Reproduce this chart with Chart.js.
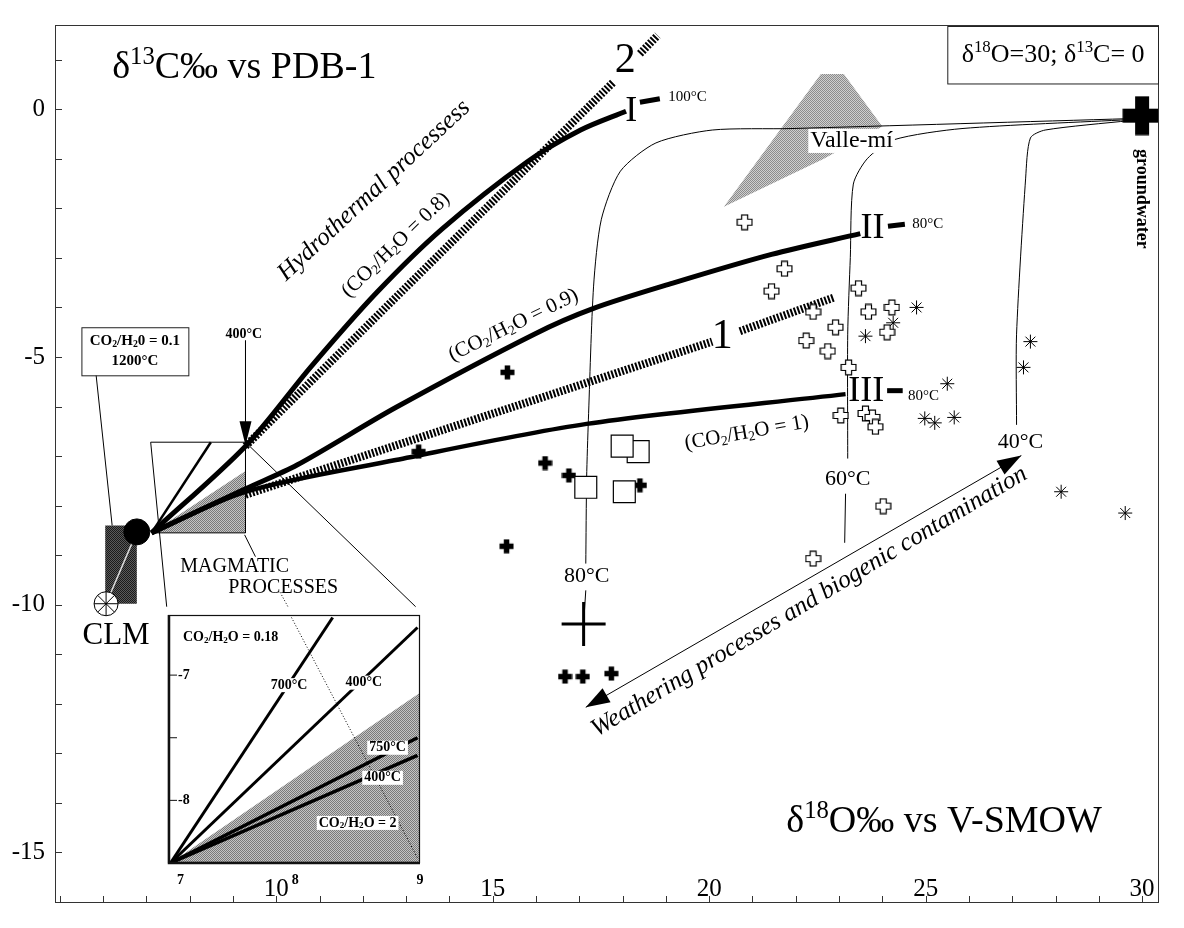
<!DOCTYPE html>
<html>
<head>
<meta charset="utf-8">
<title>d13C vs d18O</title>
<script src="https://cdn.jsdelivr.net/npm/chart.js@4.4.1/dist/chart.umd.min.js"></script>
<style>
  body { margin: 0; background: #fff; }
  #wrap { position: relative; width: 1184px; height: 928px; }
  #main { position: absolute; left: 0; top: 0; }
  #inset { position: absolute; left: 150px; top: 600px; }
</style>
</head>
<body>
<div id="wrap">
  <canvas id="main" width="1184" height="928"></canvas>
  <canvas id="inset" width="290" height="300"></canvas>
</div>
<script>
// axes (d18O vs V-SMOW, d13C vs PDB-1)
const xMin = 4.89, xMax = 30.39, yMin = -16.02, yMax = 1.70;
const xTickLabels = [10, 15, 20, 25, 30];
const yTickLabels = [0, -5, -10, -15];

// fluid/rock curves I, II, III (CO2/H2O = 0.8, 0.9, 1)
const curveI = [[7.12, -8.55], [9.29, -6.80], [10.8, -5.2], [12.31, -3.71], [13.84, -2.41], [15.80, -1.06], [17.03, -0.42], [18.08, -0.04]];
const curveII = [[7.12, -8.55], [9.29, -7.66], [10.48, -7.18], [12.76, -6.02], [15.96, -4.54], [17.33, -4.02], [19.16, -3.51], [21.44, -2.93], [23.49, -2.51]];
const curveIII = [[7.12, -8.55], [9.29, -7.72], [12.76, -7.08], [17.17, -6.35], [23.15, -5.75]];
const dashI = [[18.40, 0.14], [18.86, 0.21]];
const dashII = [[24.13, -2.36], [24.52, -2.32]];
const dashIII = [[24.11, -5.68], [24.47, -5.68]];

// hatched mixing lines 1 and 2
const mix1a = [[9.29, -7.78], [20.07, -4.69]];
const mix1b = [[20.71, -4.48], [22.88, -3.80]];
const mix2a = [[9.29, -6.80], [17.78, 0.54]];
const mix2b = [[18.40, 1.12], [18.81, 1.49]];

// isotherms to groundwater
const iso80a = [[29.70, -0.19], [21.89, -0.39], [20.07, -0.42], [18.77, -0.68], [17.95, -1.25], [17.51, -2.22], [17.33, -3.57], [17.21, -6.27], [17.17, -7.43], [17.15, -9.17]];
const iso80b = [[17.15, -9.71], [17.10, -10.39]];
const iso60a = [[29.70, -0.21], [25.84, -0.39], [24.25, -0.62], [23.65, -1.00], [23.33, -1.51], [23.26, -2.99], [23.20, -4.54], [23.20, -7.05]];
const iso60b = [[23.15, -7.76], [23.13, -8.75]];
const iso40 = [[29.70, -0.23], [27.76, -0.42], [27.42, -0.58], [27.31, -1.39], [27.10, -4.54], [27.10, -6.37]];

// magmatic fan and zoom frame
const fanSteep = [[7.12, -8.55], [8.49, -6.72]];
const zoomFrame = [[7.10, -6.72], [9.29, -6.72], [9.29, -8.55], [7.12, -8.55]];
const linkLeft = [[7.10, -6.72], [7.47, -10.04]];
const linkRight = [[9.29, -6.72], [13.22, -10.04]];
const magmaLeader = [[9.52, -9.03], [9.27, -8.59]];
const magmaShade = [[7.12, -8.55], [9.29, -7.30], [9.29, -8.55], [7.12, -8.55]];
const valleShade = [[20.34, -1.97], [22.58, 0.71], [23.11, 0.71], [24.00, -0.35], [22.65, -1.00], [20.34, -1.97]];
const clmRect = [[6.05, -8.40], [6.78, -8.40], [6.78, -9.98], [6.05, -9.98], [6.05, -8.40]];
const clmStreak = [[6.07, -9.98], [6.78, -8.53]];
const clmLeader = [[5.84, -5.37], [6.21, -8.40]];
const arrow400 = [[9.29, -4.67], [9.29, -6.40]];
const processDots = [[10.09, -9.75], [10.27, -10.04]];
const weatherArrow = [[17.15, -12.07], [27.21, -6.99]];

// samples
const openCrosses = [[20.82, -2.28], [21.74, -3.22], [21.44, -3.67], [22.40, -4.09], [22.92, -4.40], [22.24, -4.67], [22.74, -4.88], [23.22, -5.21], [23.04, -6.18], [23.45, -3.61], [23.68, -4.09], [24.22, -4.00], [24.11, -4.50], [23.61, -6.14], [23.77, -6.22], [23.84, -6.41], [24.02, -8.01], [22.40, -9.07]];
const filledCrosses = [[15.34, -5.31], [16.21, -7.14], [16.76, -7.39], [18.40, -7.59], [15.32, -8.82], [16.67, -11.45], [17.08, -11.45], [17.74, -11.39], [13.29, -6.91]];
const openSquares = [[18.36, -6.91], [17.99, -6.80], [17.15, -7.63], [18.04, -7.72]];
const asterisks = [[24.79, -4.00], [24.25, -4.31], [23.61, -4.58], [27.42, -4.69], [27.26, -5.21], [25.50, -5.54], [24.98, -6.24], [25.21, -6.33], [25.66, -6.22], [28.13, -7.72], [29.61, -8.15]];
const groundwater = [[30.0, -0.13]];
const cross80 = [[17.10, -10.39]];
const clmDot = [[6.78, -8.53]];
const clmWheel = [[6.07, -9.98]];

// labels [text, x, y]
const curveLabels = [['I', 18.20, -0.04], ['II', 23.77, -2.41], ['III', 23.63, -5.69]];
const endTemps = [['100°C', 19.50, 0.25], ['80°C', 25.05, -2.32], ['80°C', 24.95, -5.79]];
const mixLabels = [['2', 18.06, 0.97], ['1', 20.30, -4.59]];
const isoLabels = [['80°C', 17.17, -9.42], ['60°C', 23.20, -7.47], ['40°C', 27.19, -6.72]];
const ratioLabels = [['(CO_{2}/H_{2}O = 0.8)', 12.76, -2.74, -44], ['(CO_{2}/H_{2}O = 0.9)', 15.48, -4.36, -26], ['(CO_{2}/H_{2}O = 1)', 20.87, -6.53, -10]];

// inset (magnified magmatic field)
const insetXMin = 6.98, insetXMax = 9.0, insetYMin = -8.5, insetYMax = -6.52;
const insetXTicks = [7, 8, 9];
const insetYTicks = [-7, -8];
const inset700 = [[7, -8.5], [8.30, -6.54]];
const inset400a = [[7, -8.5], [8.98, -6.62]];
const inset750 = [[7, -8.5], [8.98, -7.50]];
const inset400b = [[7, -8.5], [8.98, -7.64]];
const insetShade = [[7, -8.5], [9.0, -7.14], [9.0, -8.5], [7, -8.5]];
const insetDots = [[7.97, -6.54], [8.98, -8.46]];
const insetLabels = [['700°C', 7.95, -7.08], ['400°C', 8.55, -7.06], ['750°C', 8.74, -7.58], ['400°C', 8.70, -7.82], ['CO_{2}/H_{2}O = 2', 8.50, -8.18]];

const FONT = 'Liberation Serif';
const pts = a => a.map(([x, y]) => ({ x, y }));

function parseRich(s) {
  const out = [];
  const re = /([\^_])\{([^}]*)\}/g;
  let last = 0, m;
  while ((m = re.exec(s))) {
    if (m.index > last) out.push({ t: s.slice(last, m.index), m: '' });
    out.push({ t: m[2], m: m[1] === '^' ? 'sup' : 'sub' });
    last = re.lastIndex;
  }
  if (last < s.length) out.push({ t: s.slice(last), m: '' });
  return out;
}

function drawRich(ctx, s, x, y, o) {
  const segs = parseRich(s);
  const font = sz => `${o.style || ''} ${sz}px ${FONT}`;
  let w = 0;
  segs.forEach(g => {
    g.sz = g.m ? o.size * 0.65 : o.size;
    ctx.font = font(g.sz);
    g.w = ctx.measureText(g.t).width;
    w += g.w;
  });
  ctx.save();
  ctx.translate(x, y);
  if (o.rot) ctx.rotate(o.rot * Math.PI / 180);
  let cx = o.align === 'left' ? 0 : o.align === 'right' ? -w : -w / 2;
  if (o.bg) {
    ctx.fillStyle = o.bg;
    ctx.fillRect(cx - 2, -o.size * 0.5, w + 4, o.size);
  }
  ctx.fillStyle = '#000';
  ctx.textAlign = 'left';
  ctx.textBaseline = 'middle';
  segs.forEach(g => {
    ctx.font = font(g.sz);
    const dy = g.m === 'sup' ? -o.size * 0.28 : g.m === 'sub' ? o.size * 0.22 : 0;
    ctx.fillText(g.t, cx, dy);
    cx += g.w;
  });
  ctx.restore();
}

function arrowHead(ctx, fx, fy, tx, ty, len, half) {
  const a = Math.atan2(ty - fy, tx - fx);
  const bx = tx - len * Math.cos(a), by = ty - len * Math.sin(a);
  ctx.beginPath();
  ctx.moveTo(tx, ty);
  ctx.lineTo(bx + half * Math.sin(a), by - half * Math.cos(a));
  ctx.lineTo(bx - half * Math.sin(a), by + half * Math.cos(a));
  ctx.closePath();
  ctx.fill();
}

// greek cross marker drawn once into a small canvas
function crossImg(size, arm, fill, lw) {
  const c = document.createElement('canvas');
  c.width = c.height = size;
  const g = c.getContext('2d');
  const p = lw / 2 + 0.5, q = size - p;
  const a = (size - arm) / 2, b = a + arm;
  g.beginPath();
  g.moveTo(a, p); g.lineTo(b, p); g.lineTo(b, a); g.lineTo(q, a); g.lineTo(q, b); g.lineTo(b, b);
  g.lineTo(b, q); g.lineTo(a, q); g.lineTo(a, b); g.lineTo(p, b); g.lineTo(p, a); g.lineTo(a, a);
  g.closePath();
  g.fillStyle = fill; g.fill();
  if (lw > 0) { g.strokeStyle = '#000'; g.lineWidth = lw; g.stroke(); }
  return c;
}

// fine grey screen tone
function stipple(ctx, dark, light) {
  const c = document.createElement('canvas');
  c.width = c.height = 2;
  const g = c.getContext('2d');
  g.fillStyle = light; g.fillRect(0, 0, 2, 2);
  g.fillStyle = dark; g.fillRect(0, 0, 1, 1); g.fillRect(1, 1, 1, 1);
  return ctx.createPattern(c, 'repeat');
}

function line(data, width, order, extra) {
  return Object.assign({ data: pts(data), borderColor: '#000', borderWidth: width, pointRadius: 0, pointHoverRadius: 0, fill: false, tension: 0, order }, extra || {});
}
function shade(data, pattern, order) {
  return { data: pts(data), borderWidth: 0, borderColor: 'rgba(0,0,0,0)', backgroundColor: pattern, fill: 'shape', pointRadius: 0, pointHoverRadius: 0, order };
}
function marks(data, style, radius, order, extra) {
  return Object.assign({ data: pts(data), showLine: false, pointStyle: style, pointRadius: radius, pointHoverRadius: radius, pointBorderColor: '#000', pointBackgroundColor: '#fff', pointBorderWidth: 1, order }, extra || {});
}

const mainCtx = document.getElementById('main').getContext('2d');
const hatch = { borderDash: [2, 1.6], borderCapStyle: 'butt' };

const mainDecor = {
  id: 'mainDecor',
  afterDatasetsDraw(chart) {
    const { ctx, chartArea: a } = chart;
    const X = v => chart.scales.x.getPixelForValue(v);
    const Y = v => chart.scales.y.getPixelForValue(v);
    ctx.save();
    ctx.strokeStyle = '#333';
    ctx.lineWidth = 1;
    ctx.strokeRect(a.left + 0.5, a.top + 0.5, a.width - 1, a.height - 1);
    ctx.beginPath();
    for (let v = Math.ceil(xMin); v <= xMax; v++) { ctx.moveTo(Math.round(X(v)) + 0.5, a.bottom); ctx.lineTo(Math.round(X(v)) + 0.5, a.bottom - 7); }
    for (let v = Math.ceil(yMin); v <= yMax; v++) { ctx.moveTo(a.left, Math.round(Y(v)) + 0.5); ctx.lineTo(a.left + 7, Math.round(Y(v)) + 0.5); }
    ctx.stroke();
    ctx.fillStyle = '#000';
    ctx.font = `25px ${FONT}`;
    ctx.textAlign = 'center';
    ctx.textBaseline = 'alphabetic';
    xTickLabels.forEach(v => ctx.fillText(String(v), X(v), a.bottom - 7));
    ctx.textAlign = 'right';
    ctx.textBaseline = 'middle';
    yTickLabels.forEach(v => ctx.fillText(String(v), a.left - 10, Y(v)));

    // boxes
    ctx.lineWidth = 1;
    ctx.strokeStyle = '#222';
    ctx.fillStyle = '#fff';
    const bx0 = X(25.50), by0 = Y(1.68), bx1 = a.right, by1 = Y(0.52);
    ctx.fillRect(bx0, by0, bx1 - bx0, by1 - by0);
    ctx.strokeRect(bx0 + 0.5, by0 + 0.5, bx1 - bx0 - 1, by1 - by0);
    const cx0 = X(5.50), cy0 = Y(-4.40), cx1 = X(7.97), cy1 = Y(-5.37);
    ctx.fillRect(cx0, cy0, cx1 - cx0, cy1 - cy0);
    ctx.strokeRect(cx0 + 0.5, cy0 + 0.5, cx1 - cx0, cy1 - cy0);

    // arrow heads
    ctx.fillStyle = '#000';
    const w0 = weatherArrow[0], w1 = weatherArrow[1];
    arrowHead(ctx, X(w0[0]), Y(w0[1]), X(w1[0]), Y(w1[1]), 24, 8);
    arrowHead(ctx, X(w1[0]), Y(w1[1]), X(w0[0]), Y(w0[1]), 24, 8);
    arrowHead(ctx, X(9.29), Y(-6.0), X(9.29), Y(-6.78), 24, 6);

    // titles and labels
    drawRich(ctx, 'δ^{13}C‰ vs PDB-1', X(6.21), Y(0.83), { size: 38, align: 'left' });
    drawRich(ctx, 'δ^{18}O‰ vs V-SMOW', X(21.78), Y(-14.38), { size: 38, align: 'left' });
    drawRich(ctx, 'δ^{18}O=30; δ^{13}C= 0', (bx0 + bx1) / 2, (by0 + by1) / 2, { size: 26 });
    drawRich(ctx, 'groundwater', X(30.0), Y(-1.81), { size: 18, style: 'bold', rot: 90 });
    drawRich(ctx, 'Valle-mí', X(23.29), Y(-0.64), { size: 24, bg: '#fff' });
    curveLabels.forEach(([t, x, y]) => drawRich(ctx, t, X(x), Y(y), { size: 36 }));
    endTemps.forEach(([t, x, y]) => drawRich(ctx, t, X(x), Y(y), { size: 15 }));
    mixLabels.forEach(([t, x, y]) => drawRich(ctx, t, X(x), Y(y), { size: 42 }));
    isoLabels.forEach(([t, x, y]) => drawRich(ctx, t, X(x), Y(y), { size: 22 }));
    ratioLabels.forEach(([t, x, y, r]) => drawRich(ctx, t, X(x), Y(y), { size: 21, rot: r }));
    drawRich(ctx, 'Hydrothermal processess', X(12.26), Y(-1.64), { size: 25, style: 'italic', rot: -43 });
    drawRich(ctx, 'Weathering processes and biogenic contamination', X(22.31), Y(-9.94), { size: 25, style: 'italic', rot: -31 });
    drawRich(ctx, 'MAGMATIC', X(9.04), Y(-9.23), { size: 20 });
    drawRich(ctx, 'PROCESSES', X(10.16), Y(-9.65), { size: 20 });
    drawRich(ctx, 'CLM', X(6.30), Y(-10.62), { size: 31 });
    drawRich(ctx, '400°C', X(9.25), Y(-4.54), { size: 14, style: 'bold' });
    drawRich(ctx, 'CO_{2}/H_{2}0 = 0.1', (cx0 + cx1) / 2, Y(-4.69), { size: 15, style: 'bold' });
    drawRich(ctx, '1200°C', (cx0 + cx1) / 2, Y(-5.08), { size: 15, style: 'bold' });
    ctx.restore();
  }
};

const openCrossImg = crossImg(17, 6, '#fff', 1.2);
const filledCrossImg = crossImg(15, 5.5, '#000', 0);
const groundImg = crossImg(40, 14, '#000', 0);

new Chart(mainCtx, {
  type: 'line',
  data: {
    datasets: [
      shade(valleShade, stipple(mainCtx, '#8c8c8c', '#cfcfcf'), 30),
      shade(magmaShade, stipple(mainCtx, '#7a7a7a', '#c4c4c4'), 30),
      line(clmRect, 0, 29, { backgroundColor: stipple(mainCtx, '#1a1a1a', '#5a5a5a'), fill: 'shape' }),
      line(clmStreak, 1.5, 28, { borderColor: '#ddd' }),
      line(clmLeader, 1, 20),
      line(zoomFrame, 1, 20),
      line(linkLeft, 1, 20),
      line(linkRight, 1, 20),
      line(magmaLeader, 1, 20),
      line(processDots, 1, 20, { borderDash: [1, 2] }),
      line(arrow400, 1, 20),
      line(weatherArrow, 1, 20),
      line(iso80a, 1, 20, { tension: 0.25 }),
      line(iso80b, 1, 20),
      line(iso60a, 1, 20, { tension: 0.25 }),
      line(iso60b, 1, 20),
      line(iso40, 1, 20, { tension: 0.25 }),
      line(fanSteep, 2.5, 15),
      line(mix1a, 8, 14, hatch),
      line(mix1b, 8, 14, hatch),
      line(mix2a, 8, 14, hatch),
      line(mix2b, 8, 14, hatch),
      line(curveI, 5, 12, { tension: 0.3 }),
      line(curveII, 5, 12, { tension: 0.3 }),
      line(curveIII, 4.5, 12, { tension: 0.3 }),
      line(dashI, 5, 12),
      line(dashII, 5, 12),
      line(dashIII, 5, 12),
      marks(filledCrosses, filledCrossImg, 7, 8),
      marks(openSquares, 'rect', 15.5, 6, { pointBorderWidth: 1.2 }),
      marks(openCrosses, openCrossImg, 8, 7),
      marks(asterisks, 'star', 7, 7, { pointBorderWidth: 1 }),
      marks(cross80, 'cross', 22, 5, { pointBorderWidth: 3 }),
      marks(groundwater, groundImg, 20, 5),
      marks(clmDot, 'circle', 13, 5, { pointBackgroundColor: '#000' }),
      marks(clmWheel, 'circle', 12, 5, { pointBorderWidth: 1 }),
      marks(clmWheel, 'star', 12, 4, { pointBorderWidth: 1 })
    ]
  },
  options: {
    responsive: false,
    animation: false,
    events: [],
    layout: { padding: { left: 55, top: 7, right: 12, bottom: 3 } },
    scales: {
      x: { type: 'linear', min: xMin, max: xMax, display: false },
      y: { type: 'linear', min: yMin, max: yMax, display: false }
    },
    plugins: { legend: { display: false }, tooltip: { enabled: false } }
  },
  plugins: [mainDecor]
});

// inset chart
const insetCtx = document.getElementById('inset').getContext('2d');
const insetDecor = {
  id: 'insetDecor',
  beforeDatasetsDraw(chart) {
    const { ctx, chartArea: a } = chart;
    ctx.save();
    ctx.fillStyle = '#fff';
    ctx.fillRect(a.left, a.top, a.width, a.height);
    ctx.restore();
  },
  afterDatasetsDraw(chart) {
    const { ctx, chartArea: a } = chart;
    const X = v => chart.scales.x.getPixelForValue(v);
    const Y = v => chart.scales.y.getPixelForValue(v);
    ctx.save();
    insetLabels.forEach(([t, x, y]) => drawRich(ctx, t, X(x), Y(y), { size: 14, style: 'bold', bg: '#fff' }));
    drawRich(ctx, 'CO_{2}/H_{2}O = 0.18', X(7.1), Y(-6.70), { size: 14, style: 'bold', align: 'left' });
    ctx.strokeStyle = '#111';
    ctx.lineWidth = 1.2;
    ctx.strokeRect(a.left + 0.5, a.top + 0.5, a.width - 1, a.height - 1);
    ctx.lineWidth = 2.5;
    ctx.beginPath();
    ctx.moveTo(a.left + 1, a.top); ctx.lineTo(a.left + 1, a.bottom);
    ctx.lineTo(a.right, a.bottom);
    ctx.stroke();
    ctx.lineWidth = 1;
    ctx.beginPath();
    [-7, -7.5, -8].forEach(v => { ctx.moveTo(a.left, Y(v)); ctx.lineTo(a.left + 9, Y(v)); });
    ctx.stroke();
    ctx.fillStyle = '#000';
    ctx.font = `bold 14px ${FONT}`;
    ctx.textAlign = 'left';
    ctx.textBaseline = 'middle';
    insetYTicks.forEach(v => ctx.fillText(String(v), a.left + 10, Y(v)));
    ctx.textAlign = 'center';
    insetXTicks.forEach(v => ctx.fillText(String(v), X(v) + (v === 7 ? 10 : 0), a.bottom + 17));
    ctx.restore();
  }
};

new Chart(insetCtx, {
  type: 'line',
  data: {
    datasets: [
      shade(insetShade, stipple(insetCtx, '#7a7a7a', '#c4c4c4'), 30),
      line(insetDots, 1, 20, { borderDash: [1, 2] }),
      line(inset700, 3, 10),
      line(inset400a, 3, 10),
      line(inset750, 3.5, 10),
      line(inset400b, 3.5, 10)
    ]
  },
  options: {
    responsive: false,
    animation: false,
    events: [],
    layout: { padding: { left: 18, top: 15, right: 20, bottom: 37 } },
    scales: {
      x: { type: 'linear', min: insetXMin, max: insetXMax, display: false },
      y: { type: 'linear', min: insetYMin, max: insetYMax, display: false }
    },
    plugins: { legend: { display: false }, tooltip: { enabled: false } }
  },
  plugins: [insetDecor]
});
</script>
</body>
</html>
